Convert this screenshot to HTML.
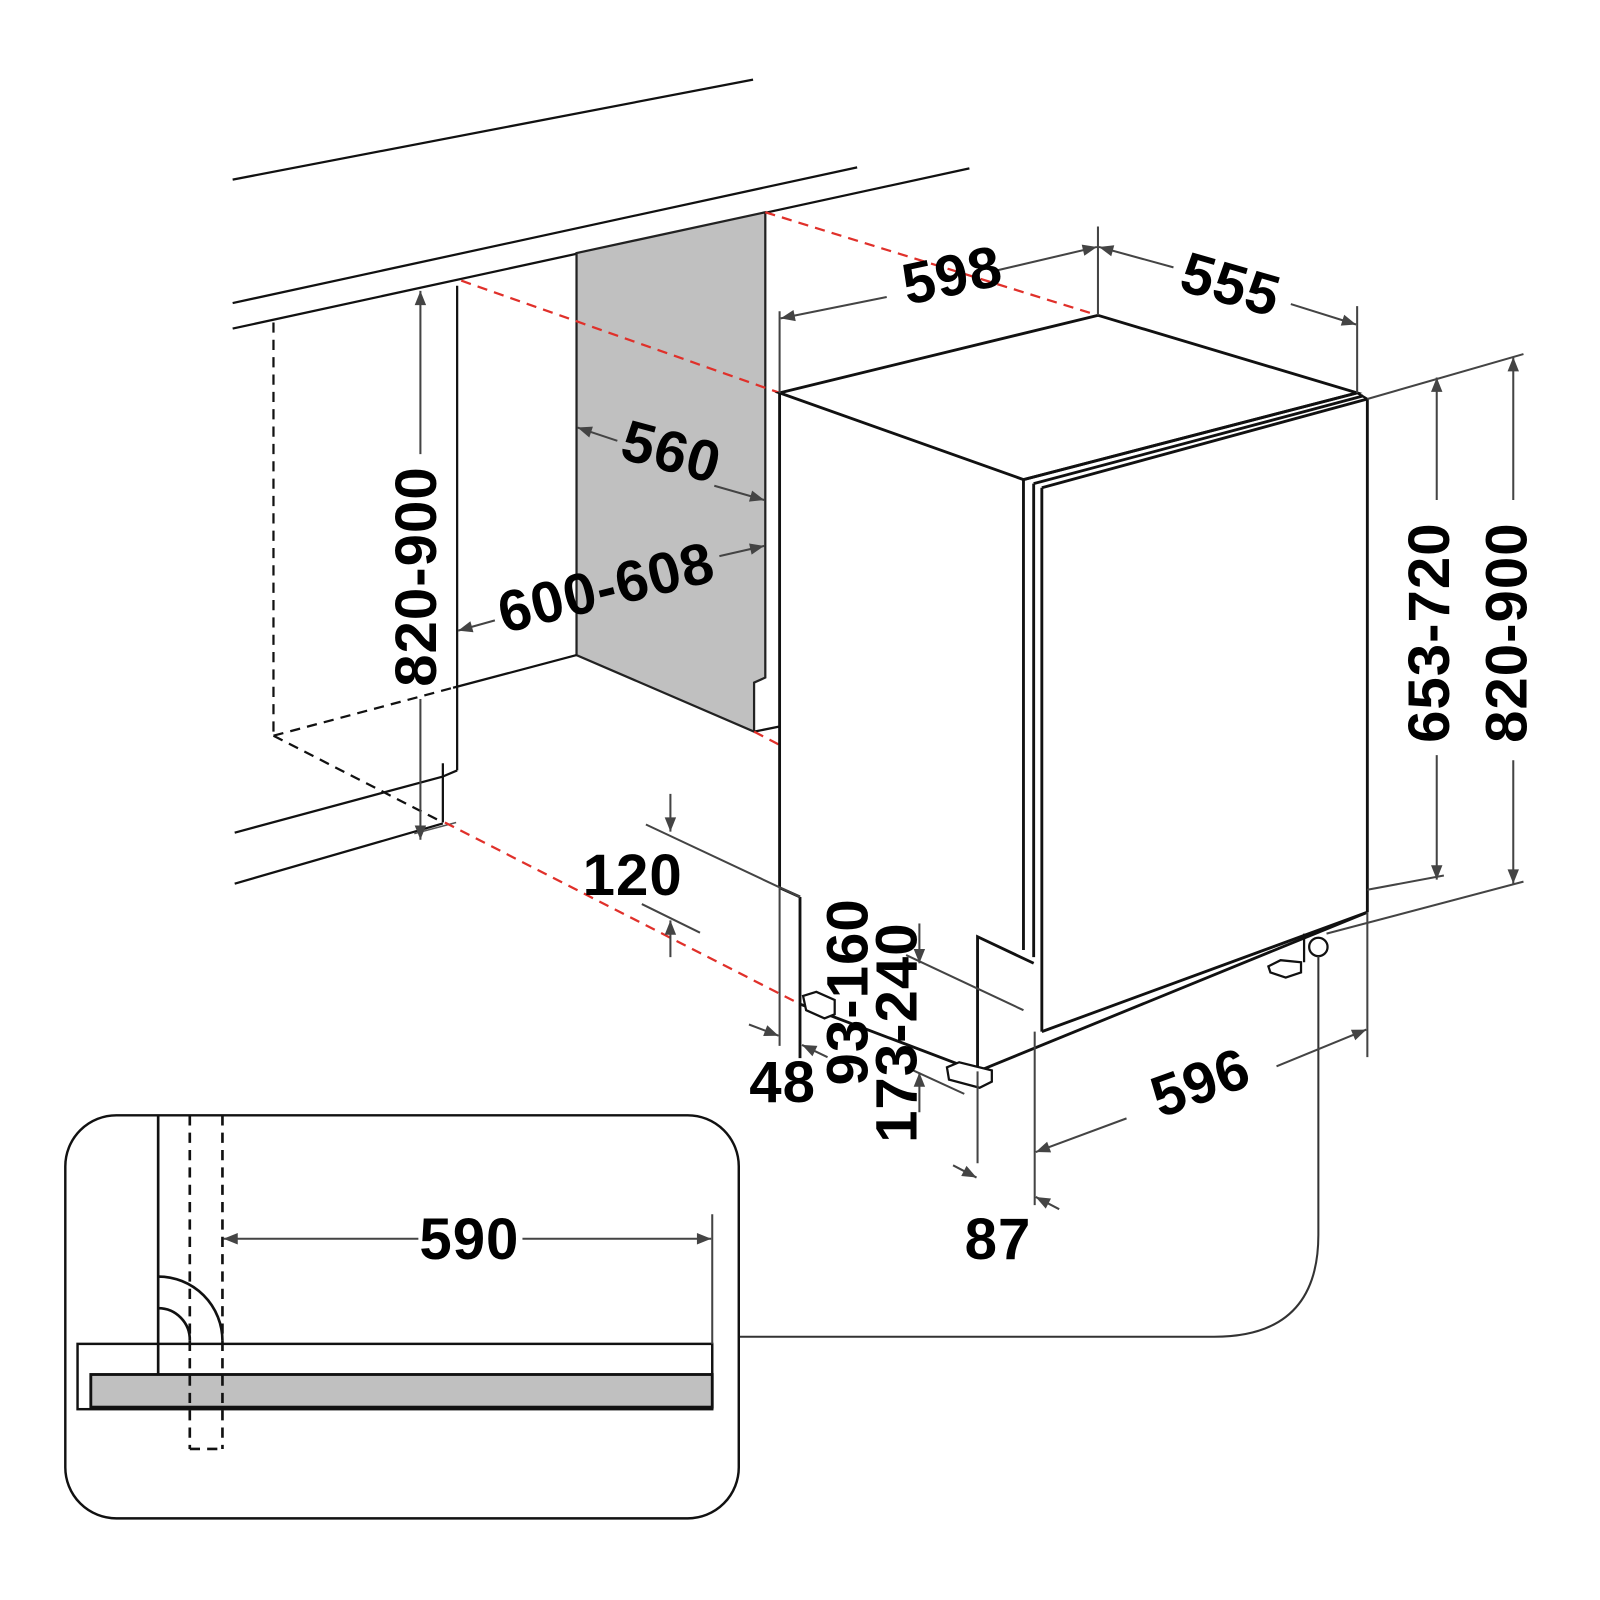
<!DOCTYPE html>
<html><head><meta charset="utf-8"><style>
html,body{margin:0;padding:0;background:#fff;}
svg{display:block;}
text{font-family:"Liberation Sans",Arial,sans-serif;font-weight:bold;fill:#000;letter-spacing:1px;}
</style></head><body>
<svg width="1600" height="1600" viewBox="0 0 1568 1568" xmlns="http://www.w3.org/2000/svg">
<defs>
<marker id="ar" viewBox="0 0 10 10" refX="10" refY="5" markerWidth="20" markerHeight="14" orient="auto-start-reverse" markerUnits="userSpaceOnUse">
<path d="M0,1 L10,5 L0,9 z" fill="#444"/></marker>
</defs>
<g fill="none" stroke="#111" stroke-width="2.2">
<line x1="228" y1="176" x2="738" y2="78"/>
<line x1="228" y1="297" x2="840" y2="164"/>
<line x1="228" y1="322" x2="950" y2="165"/>
<polygon points="565,248 750,208 750,664 739,669 739,717 565,642" fill="#c0c0c0" stroke="#222"/>
<line x1="739" y1="717" x2="764" y2="712"/>
<line x1="448" y1="280" x2="448" y2="755"/>
<line x1="448" y1="755" x2="434" y2="761"/>
<line x1="434" y1="748" x2="434" y2="806"/>
<line x1="444" y1="674" x2="565" y2="642"/>
<g stroke-dasharray="10,7">
<line x1="268" y1="316" x2="268" y2="721"/>
<line x1="268" y1="721" x2="444" y2="674"/>
<line x1="268" y1="721" x2="434" y2="806"/>
</g>
<line x1="230" y1="816" x2="434" y2="761"/>
<line x1="230" y1="866" x2="434" y2="807"/>
<line x1="406" y1="817" x2="447" y2="806" stroke="#555" stroke-width="1.5"/>
<g stroke="#e0302a" stroke-dasharray="10,7">
<line x1="750" y1="208" x2="1076" y2="309"/>
<line x1="452" y1="275" x2="764" y2="385"/>
<line x1="436" y1="806" x2="784" y2="984"/>
<line x1="739" y1="717" x2="764" y2="730"/>
</g>
<g stroke-width="2.8">
<polygon points="764,385 1076,309 1330,385 1003,470"/>
<line x1="764" y1="385" x2="764" y2="870"/>
<line x1="764" y1="870" x2="784" y2="879"/>
<line x1="784" y1="879" x2="784" y2="1037"/>
<line x1="1003" y1="470" x2="1003" y2="931"/>
<line x1="1013" y1="474" x2="1013" y2="938"/>
<line x1="1021" y1="478" x2="1021" y2="1011"/>
<line x1="1003" y1="470" x2="1330" y2="385"/>
<line x1="1013" y1="474" x2="1336" y2="388"/>
<line x1="1021" y1="478" x2="1340" y2="391"/>
<line x1="1340" y1="391" x2="1340" y2="894"/>
<line x1="1021" y1="1011" x2="1340" y2="894"/>
<polyline points="958,1050 958,918 1013,944"/>
<line x1="958" y1="1050" x2="1340" y2="894"/>
<line x1="784" y1="984" x2="958" y2="1050"/>
</g>
<line x1="1330" y1="385" x2="1340" y2="391"/>
<path d="M787,976 L800,972 L818,980 L818,994 L808,998 L790,990 Z" fill="#fff"/>
<path d="M928,1046 L940,1041 L972,1049 L972,1060 L960,1066 L930,1058 Z" fill="#fff"/>
<path d="M1243,947 L1255,941 L1275,943 L1275,953 L1260,958 L1245,953 Z" fill="#fff"/>
<line x1="1278" y1="915" x2="1278" y2="943"/>
<circle cx="1292" cy="928" r="9" fill="#fff"/>
<path d="M1292,937 L1292,1210 Q1292,1310 1190,1310 L724,1310" stroke="#333" stroke-width="2"/>
<rect x="64" y="1093" width="660" height="395" rx="50" stroke-width="2.4"/>
<rect x="76" y="1317" width="622" height="64" stroke-width="2.4"/>
<rect x="89" y="1347" width="609" height="32" fill="#c0c0c0" stroke-width="2.8"/>
<line x1="155" y1="1093" x2="155" y2="1347" stroke-width="2.6"/>
<g stroke-dasharray="10,7" stroke-width="2.6">
<line x1="186" y1="1093" x2="186" y2="1420"/>
<line x1="218" y1="1093" x2="218" y2="1420"/>
<line x1="186" y1="1420" x2="218" y2="1420"/>
</g>
<path d="M155,1251 A63,63 0 0 1 218,1314" stroke-width="2.6"/>
<path d="M155,1282 A31,31 0 0 1 186,1314" stroke-width="2.6"/>
</g>
<g fill="none" stroke="#444" stroke-width="2">
<line x1="698" y1="1190" x2="698" y2="1317"/>
<line x1="410" y1="1214" x2="219" y2="1214" marker-end="url(#ar)"/>
<line x1="512" y1="1214" x2="697" y2="1214" marker-end="url(#ar)"/>
<line x1="412" y1="445" x2="412" y2="285" marker-end="url(#ar)"/>
<line x1="412" y1="685" x2="412" y2="823" marker-end="url(#ar)"/>
<line x1="605" y1="432" x2="566" y2="419" marker-end="url(#ar)"/>
<line x1="700" y1="476" x2="749" y2="490" marker-end="url(#ar)"/>
<line x1="485" y1="608" x2="449" y2="618" marker-end="url(#ar)"/>
<line x1="705" y1="545" x2="749" y2="535" marker-end="url(#ar)"/>
<line x1="764" y1="305" x2="764" y2="385"/>
<line x1="1076" y1="222" x2="1076" y2="309"/>
<line x1="869" y1="291" x2="765" y2="312" marker-end="url(#ar)"/>
<line x1="977" y1="265" x2="1075" y2="242" marker-end="url(#ar)"/>
<line x1="1330" y1="300" x2="1330" y2="385"/>
<line x1="1150" y1="262" x2="1077" y2="242" marker-end="url(#ar)"/>
<line x1="1265" y1="298" x2="1329" y2="318" marker-end="url(#ar)"/>
<line x1="1340" y1="391" x2="1493" y2="347"/>
<line x1="1340" y1="872" x2="1415" y2="858"/>
<line x1="1300" y1="915" x2="1493" y2="864"/>
<line x1="1408" y1="490" x2="1408" y2="370" marker-end="url(#ar)"/>
<line x1="1408" y1="740" x2="1408" y2="862" marker-end="url(#ar)"/>
<line x1="1483" y1="490" x2="1483" y2="350" marker-end="url(#ar)"/>
<line x1="1483" y1="745" x2="1483" y2="866" marker-end="url(#ar)"/>
<line x1="633" y1="808" x2="784" y2="879"/>
<line x1="629" y1="886" x2="686" y2="914"/>
<line x1="657" y1="778" x2="657" y2="815" marker-end="url(#ar)"/>
<line x1="657" y1="938" x2="657" y2="902" marker-end="url(#ar)"/>
<line x1="764" y1="870" x2="764" y2="1025"/>
<line x1="734" y1="1004" x2="763" y2="1015" marker-end="url(#ar)"/>
<line x1="811" y1="1036" x2="786" y2="1024" marker-end="url(#ar)"/>
<line x1="888" y1="936" x2="1003" y2="990"/>
<line x1="895" y1="1049" x2="945" y2="1072"/>
<line x1="901" y1="905" x2="901" y2="944" marker-end="url(#ar)"/>
<line x1="901" y1="1090" x2="901" y2="1051" marker-end="url(#ar)"/>
<line x1="958" y1="1050" x2="958" y2="1140"/>
<line x1="1014" y1="1011" x2="1014" y2="1181"/>
<line x1="934" y1="1142" x2="957" y2="1154" marker-end="url(#ar)"/>
<line x1="1038" y1="1185" x2="1015" y2="1173" marker-end="url(#ar)"/>
<line x1="1340" y1="894" x2="1340" y2="1036"/>
<line x1="1104" y1="1096" x2="1015" y2="1129" marker-end="url(#ar)"/>
<line x1="1251" y1="1045" x2="1339" y2="1009" marker-end="url(#ar)"/>
</g>
<g font-size="57">
<text x="460" y="1234" text-anchor="middle">590</text>
<text transform="translate(412,565) rotate(-90)" text-anchor="middle" dominant-baseline="middle">820-900</text>
<text transform="translate(657,447) rotate(15)" text-anchor="middle" dominant-baseline="middle">560</text>
<text transform="translate(595,580) rotate(-14)" text-anchor="middle" dominant-baseline="middle">600-608</text>
<text transform="translate(934,274) rotate(-12)" text-anchor="middle" dominant-baseline="middle">598</text>
<text transform="translate(1205,283) rotate(16)" text-anchor="middle" dominant-baseline="middle">555</text>
<text transform="translate(1405,620) rotate(-90)" text-anchor="middle" dominant-baseline="middle">653-720</text>
<text transform="translate(1481,620) rotate(-90)" text-anchor="middle" dominant-baseline="middle">820-900</text>
<text x="620" y="877" text-anchor="middle">120</text>
<text x="767" y="1080" text-anchor="middle">48</text>
<text transform="translate(835,972) rotate(-90)" text-anchor="middle" dominant-baseline="middle">93-160</text>
<text transform="translate(883,1012) rotate(-90)" text-anchor="middle" dominant-baseline="middle">173-240</text>
<text x="978" y="1234" text-anchor="middle">87</text>
<text transform="translate(1178,1065) rotate(-20)" text-anchor="middle" dominant-baseline="middle">596</text>
</g>
</svg>
</body></html>
